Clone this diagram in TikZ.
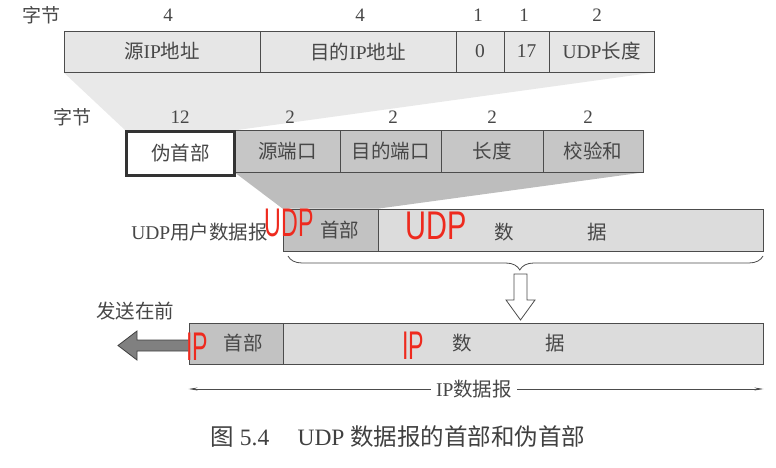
\documentclass[tikz,border=0pt]{standalone}
\usepackage{fontspec}
\setmainfont{Liberation Serif}
\newfontfamily\cjk{Noto Sans CJK SC}
\newfontfamily\hand{Liberation Sans}
\usetikzlibrary{arrows.meta,decorations.pathreplacing,backgrounds}
\newcommand\zh[1]{{\cjk #1}}
\definecolor{gtop}{HTML}{E6E6E6}
\definecolor{gmid}{HTML}{C6C6C6}
\definecolor{gwedgeA}{HTML}{E9E9E9}
\definecolor{gwedgeB}{HTML}{BDBDBD}
\definecolor{ghead}{HTML}{C2C2C2}
\definecolor{gdata}{HTML}{DCDCDC}
\definecolor{garrow}{HTML}{808080}
\definecolor{inkred}{HTML}{EE2A1E}
\begin{document}
\begin{tikzpicture}[x=1pt,y=-1pt,
  txt/.style={text=black!72, font=\fontsize{19.5}{22}\selectfont},
  cell/.style={draw=black!70, line width=0.8pt, inner sep=0pt, txt},
  num/.style={txt, inner sep=0pt, font=\fontsize{19}{22}\selectfont},
  red/.style={text=inkred, font=\hand\fontsize{40}{40}\selectfont, inner sep=0pt, xscale=0.58}
]
\useasboundingbox (0,0) rectangle (776,468);
% top row: pseudo header fields
\node[num] (b1) at (41,15) {\zh{字节}};
\node[cell, fill=gtop, minimum width=196pt, minimum height=41pt] (src) at (162,51.5) {\zh{源}IP\zh{地址}};
\node[cell, fill=gtop, minimum width=196pt, minimum height=41pt] (dst) at (358,51.5) {\zh{目的}IP\zh{地址}};
\node[cell, fill=gtop, minimum width=48pt, minimum height=41pt] (zero) at (480,51.5) {0};
\node[cell, fill=gtop, minimum width=45pt, minimum height=41pt] (proto) at (526.5,51.5) {17};
\node[cell, fill=gtop, minimum width=105pt, minimum height=41pt] (ulen) at (601.5,51.5) {UDP\zh{长度}};
\node[num] (n1) at (168,15) {4};
\node[num] (n2) at (360,15) {4};
\node[num] (n3) at (478,15) {1};
\node[num] (n4) at (524,15) {1};
\node[num] (n5) at (597,15) {2};
% middle row
\node[num] (b2) at (72,117) {\zh{字节}};
\node[cell, fill=gmid, minimum width=105pt, minimum height=42pt] (sport) at (287.5,151) {\zh{源端口}};
\node[cell, fill=gmid, minimum width=101pt, minimum height=42pt] (dport) at (390.5,151) {\zh{目的端口}};
\node[cell, fill=gmid, minimum width=102pt, minimum height=42pt] (len) at (492,151) {\zh{长度}};
\node[cell, fill=gmid, minimum width=100pt, minimum height=42pt] (chk) at (593,151) {\zh{校验和}};
\node[cell, fill=white, line width=2.6pt, draw=black!80, minimum width=108pt, minimum height=44pt] (pseudo) at (180.5,153.5) {\zh{伪首部}};
\node[num] (m1) at (180,117) {12};
\node[num] (m2) at (290,117) {2};
\node[num] (m3) at (393,117) {2};
\node[num] (m4) at (492,117) {2};
\node[num] (m5) at (588,117) {2};
% UDP datagram
\node[txt, anchor=east, inner sep=0pt] (udplbl) at (268,232) {UDP\zh{用户数据报}};
\node[cell, fill=ghead, minimum width=95pt, minimum height=42pt] (uhead) at (330.5,230) {\hspace{18pt}\zh{首部}};
\node[cell, fill=gdata, minimum width=385pt, minimum height=42pt] (udata) at (570.5,230) {};
\node[txt] (ud1) at (504,232) {\zh{数}};
\node[txt] (ud2) at (597,232) {\zh{据}};
% brace and hollow arrow
\coordinate (bl) at (288,256);
\coordinate (br) at (763,256);
\draw[black!70, line width=0.8pt, decorate, decoration={brace, mirror, amplitude=14pt, aspect=0.488}] (bl) -- (br);
% IP datagram
\node[cell, fill=ghead, minimum width=94pt, minimum height=41pt] (ihead) at (236,343.5) {\hspace{14pt}\zh{首部}};
\node[cell, fill=gdata, minimum width=480pt, minimum height=41pt] (idata) at (523,343.5) {};
\node[txt] (id1) at (462,343) {\zh{数}};
\node[txt] (id2) at (555,343) {\zh{据}};
\draw[black!70, fill=white, line width=0.8pt] (514,274) -- (527,274) -- (527,300) -- (535,300) -- (520.5,320) -- (506,300) -- (514,300) -- cycle;
% send-first arrow
\node[txt, inner sep=0pt] (send) at (135,311) {\zh{发送在前}};
\draw[draw=black!75, fill=garrow, line width=0.8pt] (ihead.west |- 0,340) -- (137,340) -- (137,331) -- (118,345.5) -- (137,360) -- (137,351) -- (ihead.west |- 0,351);
% IP datagram length arrow
\node[txt, fill=white, inner xsep=5pt, inner ysep=1pt] (iplbl) at (474,389) {IP\zh{数据报}};
\draw[black!70, line width=0.7pt, -{Stealth[length=9pt, width=3pt]}] (iplbl.west) -- (ihead.west |- iplbl.west);
\draw[black!70, line width=0.7pt, -{Stealth[length=9pt, width=3pt]}] (iplbl.east) -- (idata.east |- iplbl.east);
% caption
\node[text=black!75, font=\fontsize{23.5}{26}\selectfont, inner sep=0pt] (cap) at (398,437) {\zh{图} 5.4\hspace{1.2em}UDP \zh{数据报的首部和伪首部}};
% handwritten annotations
\node[red] (r1) at (289,223) {UDP};
\node[red, xscale=1.25] (r2) at (436,226) {UDP};
\node[red] (r3) at (197,347) {IP};
\node[red] (r4) at (413,346) {IP};
% wedges
\begin{pgfonlayer}{background}
\fill[gwedgeA] (src.south west) -- (ulen.south east) -- (pseudo.north east) -- (pseudo.north west) -- cycle;
\fill[gwedgeB] (sport.south west) -- (chk.south east) -- (uhead.north east) -- (uhead.north west) -- cycle;
\end{pgfonlayer}
\end{tikzpicture}
\end{document}
